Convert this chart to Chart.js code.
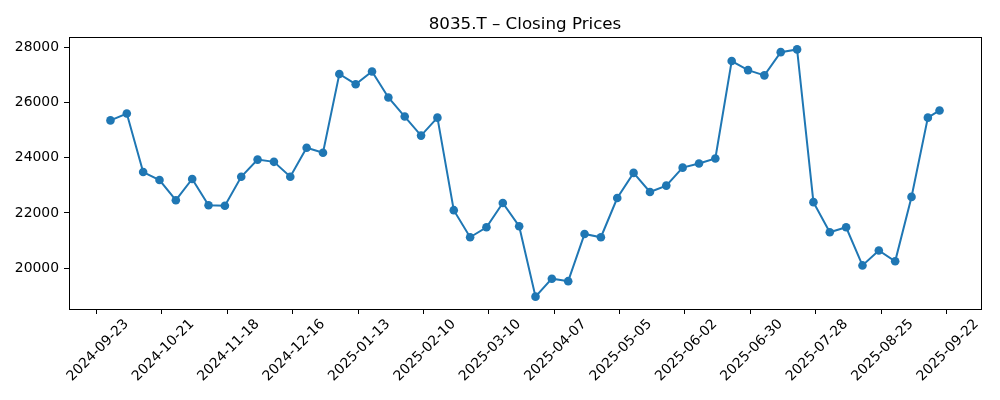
<!DOCTYPE html>
<html>
<head>
<meta charset="utf-8">
<script src="https://cdn.jsdelivr.net/npm/chart.js@4"></script>
<style>
  html, body { margin: 0; padding: 0; background: #fff; }
  #wrap { width: 1000px; height: 400px; }
</style>
</head>
<body>
<div id="wrap"><canvas id="chart"></canvas></div>
<script>
/* ===== 8035.T weekly closing prices ===== */
const dates = [
  "2024-09-29", "2024-10-06", "2024-10-13", "2024-10-20", "2024-10-27",
  "2024-11-03", "2024-11-10", "2024-11-17", "2024-11-24", "2024-12-01",
  "2024-12-08", "2024-12-15", "2024-12-22", "2024-12-29", "2025-01-05",
  "2025-01-12", "2025-01-19", "2025-01-26", "2025-02-02", "2025-02-09",
  "2025-02-16", "2025-02-23", "2025-03-02", "2025-03-09", "2025-03-16",
  "2025-03-23", "2025-03-30", "2025-04-06", "2025-04-13", "2025-04-20",
  "2025-04-27", "2025-05-04", "2025-05-11", "2025-05-18", "2025-05-25",
  "2025-06-01", "2025-06-08", "2025-06-15", "2025-06-22", "2025-06-29",
  "2025-07-06", "2025-07-13", "2025-07-20", "2025-07-27", "2025-08-03",
  "2025-08-10", "2025-08-17", "2025-08-24", "2025-08-31", "2025-09-07",
  "2025-09-14", "2025-09-19"
];
const closes = [
  25350, 25600, 23480, 23190, 22460, 23230, 22280, 22260, 23310, 23930,
  23850, 23310, 24360, 24180, 27030, 26660, 27120, 26180, 25490, 24800,
  25450, 22100, 21120, 21480, 22360, 21520, 18970, 19620, 19530, 21240,
  21120, 22540, 23450, 22760, 22990, 23640, 23790, 23970, 27500, 27170,
  26980, 27820, 27920, 22390, 21300, 21480, 20100, 20640, 20250, 22580,
  25450, 25710
];
const xTickLabels = [
  "2024-09-23", "2024-10-21", "2024-11-18", "2024-12-16", "2025-01-13",
  "2025-02-10", "2025-03-10", "2025-04-07", "2025-05-05", "2025-06-02",
  "2025-06-30", "2025-07-28", "2025-08-25", "2025-09-22"
];
const yTicks = [20000, 22000, 24000, 26000, 28000];

const dayOf = (s) => Date.UTC(+s.slice(0, 4), +s.slice(5, 7) - 1, +s.slice(8, 10)) / 86400000;

const points = dates.map((d, i) => ({ x: dayOf(d), y: closes[i] }));

// matplotlib-style 5% margins
const xs = points.map(p => p.x), ys = closes;
const xLo = Math.min(...xs), xHi = Math.max(...xs);
const yLo = Math.min(...ys), yHi = Math.max(...ys);
const xPad = (xHi - xLo) * 0.05, yPad = (yHi - yLo) * 0.05;

const FONT = "'DejaVu Sans', sans-serif";

const frame = {
  id: "frame",
  afterDraw(chart) {
    const { ctx, chartArea: a } = chart;
    ctx.save();
    ctx.strokeStyle = "#000";
    ctx.lineWidth = 1;
    ctx.strokeRect(Math.round(a.left) + 0.5, Math.round(a.top) + 0.5,
                   Math.round(a.right - a.left), Math.round(a.bottom - a.top));
    ctx.restore();
  }
};

new Chart(document.getElementById("chart"), {
  type: "line",
  data: {
    datasets: [{
      data: points,
      borderColor: "#1f77b4",
      backgroundColor: "#1f77b4",
      borderWidth: 2,
      pointRadius: 4.3,
      pointBorderWidth: 0,
      tension: 0
    }]
  },
  options: {
    responsive: true,
    maintainAspectRatio: false,
    animation: false,
    layout: { padding: { left: 0, right: 19, top: 0, bottom: 0 } },
    plugins: {
      legend: { display: false },
      tooltip: { enabled: false },
      title: {
        display: true,
        fullSize: false,   // centre over the plot area like matplotlib
        text: "8035.T – Closing Prices",
        color: "#000",
        font: { family: FONT, size: 16.7, weight: "normal" },
        padding: { top: 15, bottom: 2 }
      }
    },
    scales: {
      x: {
        type: "linear",
        min: xLo - xPad,
        max: xHi + xPad,
        afterBuildTicks: (s) => { s.ticks = xTickLabels.map(t => ({ value: dayOf(t) })); },
        afterFit: (s) => { s.height = 91; },
        ticks: {
          autoSkip: false,
          minRotation: 45,
          maxRotation: 45,
          labelOffset: 30,
          padding: 2,
          color: "#000",
          font: { family: FONT, size: 13.9 },
          callback: (v, i) => xTickLabels[i]
        },
        grid: { display: true, drawOnChartArea: false, drawTicks: true, tickLength: 5, color: "#000" },
        border: { display: false }
      },
      y: {
        min: yLo - yPad,
        max: yHi + yPad,
        afterBuildTicks: (s) => { s.ticks = yTicks.map(v => ({ value: v })); },
        afterFit: (s) => { s.width = 69; },
        ticks: {
          padding: 5,
          color: "#000",
          font: { family: FONT, size: 13.9 },
          callback: (v) => String(v)
        },
        grid: { display: true, drawOnChartArea: false, drawTicks: true, tickLength: 5, color: "#000" },
        border: { display: false }
      }
    }
  },
  plugins: [frame]
});
</script>
</body>
</html>
